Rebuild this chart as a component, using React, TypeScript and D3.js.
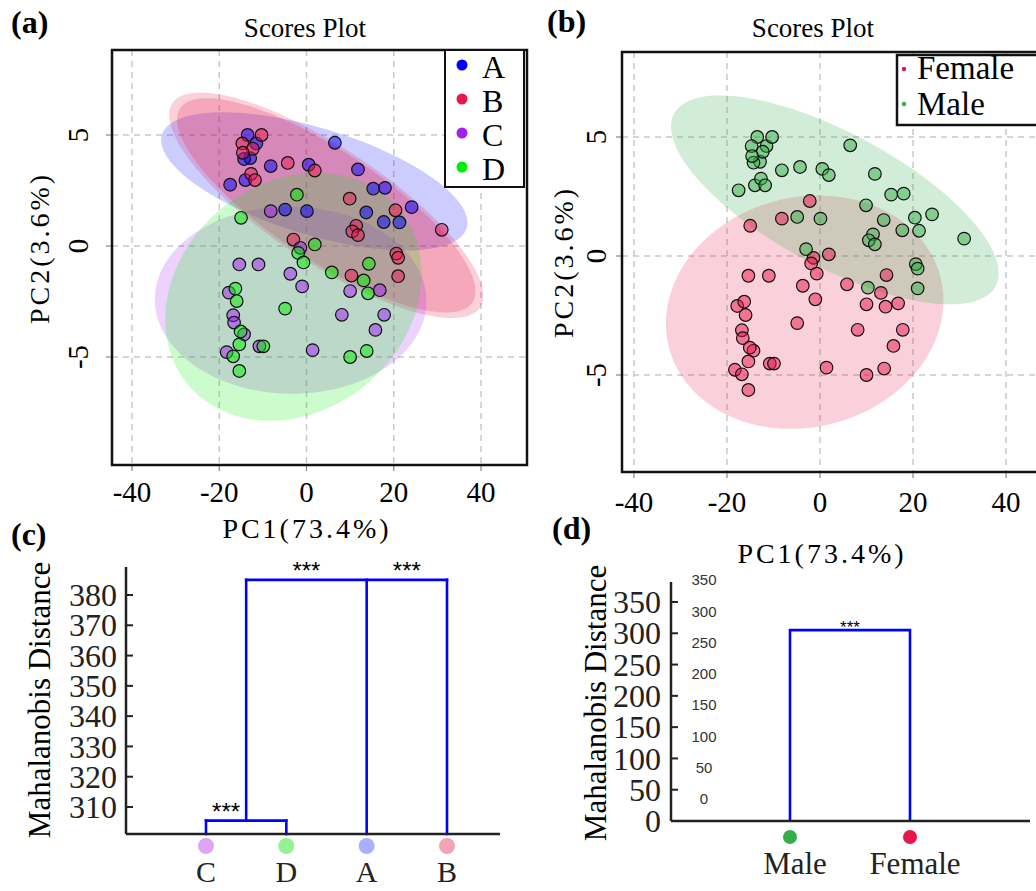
import * as d3 from "d3";

// ---- data ----
const groups = ["A", "B", "C", "D"];
const groupColors = ["#0000FF", "#E8174B", "#A020F0", "#00EE00"];
const groupSex = ["Male", "Male", "Female", "Female"];
const sexes = ["Female", "Male"];
const sexColors = ["#E8174B", "#33AE48"];

// PCA scores per group (PC1, PC2)
const pc1_A = [-13.5, -11.5, -12.9, -14.3, 6.5, -8.2, 0.5, -14.0, -17.5, 11.8, 15.3, 18.0, -4.9, 0.1, 13.7, 24.1, 17.7, 21.3];
const pc2_A = [5.0, 4.62, 3.96, 3.92, 4.65, 3.6, 3.66, 2.97, 2.76, 3.45, 2.58, 2.62, 1.64, 1.57, 1.51, 1.75, 1.08, 1.06];
const pc1_B = [-10.3, -14.7, -12.3, -14.6, -4.3, 1.9, -12.7, -11.8, 9.9, 20.4, 11.4, 10.5, 11.8, 31.0, -3.0, 20.6, 21.0, 10.3, 21.0];
const pc2_B = [5.0, 4.62, 4.38, 4.2, 3.74, 3.4, 3.25, 2.97, 2.13, 1.61, 0.91, 0.66, 0.49, 0.73, 0.29, -0.34, -0.53, -1.33, -1.36];
const pc1_C = [-8.2, -1.4, -15.4, -11.0, -3.7, -1.0, -17.8, 10.0, 16.8, -16.8, -16.6, 8.1, 17.8, -14.3, 15.8, -10.8, -18.3, 1.4];
const pc2_C = [1.57, -0.08, -0.83, -0.83, -1.25, -1.82, -2.1, -2.03, -1.99, -3.12, -3.45, -3.1, -3.1, -3.98, -3.78, -4.52, -4.78, -4.69];
const pc1_D = [-2.2, -15.0, 1.9, -1.9, -0.7, 5.8, 14.3, 13.1, -16.3, 14.1, -16.0, -4.9, -15.1, -15.4, -9.9, -16.8, 13.8, 10.0, -15.4];
const pc2_D = [2.31, 1.27, 0.07, -0.31, -0.74, -1.19, -0.8, -1.55, -1.92, -2.13, -2.48, -2.82, -3.85, -4.43, -4.52, -4.97, -4.73, -5.0, -5.63];

const pcTicksX = [-40, -20, 0, 20, 40];
const pcTicksY = [-5, 0, 5];

// dendrogram (c): leaves and merges (Mahalanobis distance)
const leavesC = ["C", "D", "A", "B"];
const leafColorsC = ["#DDA6F2", "#94F294", "#AAB0FF", "#F2A3B4"];
const mergesC = [
  { id: "CD", members: ["C", "D"], height: 305.5 },
  { id: "CDAB", members: ["CD", "A", "B"], height: 385 },
];
const sigPairsC = [["C", "CD"], ["CD", "A"], ["A", "B"]];
const ticksC = [310, 320, 330, 340, 350, 360, 370, 380];

// dendrogram (d)
const leavesD = ["Male", "Female"];
const leafColorsD = ["#33AE48", "#E8174B"];
const mergeD = { members: ["Male", "Female"], height: 305 };
const ticksD = [0, 50, 100, 150, 200, 250, 300, 350];

const serif = "'Liberation Serif', 'Times New Roman', serif";
const sans = "'Liberation Sans', Arial, sans-serif";
const K95 = Math.sqrt(5.991);

const pcX = [pc1_A, pc1_B, pc1_C, pc1_D];
const pcY = [pc2_A, pc2_B, pc2_C, pc2_D];
const samples = groups.flatMap((g, gi) =>
  pcX[gi].map((x, i) => ({ x, y: pcY[gi][i], group: g, sex: groupSex[gi] }))
);

// confidence ellipse of a point cloud, in data units, mapped through scales
function ellipsePath(xs: number[], ys: number[], k: number, sx: any, sy: any) {
  const n = xs.length;
  const mx = d3.mean(xs)!;
  const my = d3.mean(ys)!;
  let sxx = 0, syy = 0, sxy = 0;
  for (let i = 0; i < n; i++) {
    sxx += (xs[i] - mx) ** 2;
    syy += (ys[i] - my) ** 2;
    sxy += (xs[i] - mx) * (ys[i] - my);
  }
  sxx /= n - 1; syy /= n - 1; sxy /= n - 1;
  const a = Math.sqrt(sxx);
  const b = sxy / a;
  const c = Math.sqrt(Math.max(syy - b * b, 0));
  const pts: [number, number][] = d3.range(0, 120).map((i) => {
    const t = (i / 120) * 2 * Math.PI;
    const ex = mx + k * a * Math.cos(t);
    const ey = my + k * (b * Math.cos(t) + c * Math.sin(t));
    return [sx(ex), sy(ey)];
  });
  return d3.line().curve(d3.curveLinearClosed)(pts) || "";
}

function ScorePanel({ x, y, frame, legend, byGroup }: any) {
  const grid = "#c9c9c9";
  return (
    <g>
      <rect x={frame.l} y={frame.t} width={frame.r - frame.l} height={frame.b - frame.t} fill="white" />
      {pcTicksX.map((t) => (
        <line key={"gx" + t} x1={x(t)} x2={x(t)} y1={frame.t} y2={frame.b} stroke={grid} strokeWidth={1.5} strokeDasharray="6,5" />
      ))}
      {pcTicksY.map((t) => (
        <line key={"gy" + t} x1={frame.l} x2={frame.r} y1={y(t)} y2={y(t)} stroke={grid} strokeWidth={1.5} strokeDasharray="6,5" />
      ))}
      {byGroup
        ? groups.map((g, gi) => (
            <g key={g}>
              <path d={ellipsePath(pcX[gi], pcY[gi], K95, x, y)} fill={groupColors[gi]} fillOpacity={0.2} />
              {g === "B" && (
                <path d={ellipsePath(pcX[gi], pcY[gi], K95 * 0.95, x, y)} fill={groupColors[gi]} fillOpacity={0.22} />
              )}
            </g>
          ))
        : sexes.map((s, si) => {
            const pts = samples.filter((d) => d.sex === s);
            return (
              <path key={s} d={ellipsePath(pts.map((d) => d.x), pts.map((d) => d.y), K95, x, y)}
                fill={sexColors[si]} fillOpacity={s === "Male" ? 0.22 : 0.2} />
            );
          })}
      {(byGroup ? samples : [...samples].sort((p, q) => (p.sex < q.sex ? -1 : 1))).map((d, i) => (
        <circle key={i} cx={x(d.x)} cy={y(d.y)} r={6.3}
          fill={byGroup ? groupColors[groups.indexOf(d.group)] : sexColors[sexes.indexOf(d.sex)]}
          fillOpacity={0.5} stroke="#111" strokeWidth={1.2} />
      ))}
      {/* ticks */}
      {pcTicksX.map((t) => (
        <line key={"tx" + t} x1={x(t)} x2={x(t)} y1={frame.b} y2={frame.b + 6} stroke="#888" strokeWidth={1.2} />
      ))}
      {pcTicksY.map((t) => (
        <line key={"ty" + t} x1={frame.l - 6} x2={frame.l} y1={y(t)} y2={y(t)} stroke="#888" strokeWidth={1.2} />
      ))}
      <rect x={frame.l} y={frame.t} width={frame.r - frame.l} height={frame.b - frame.t} fill="none" stroke="#111" strokeWidth={2.5} />
      {pcTicksX.map((t) => (
        <text key={"lx" + t} x={x(t)} y={frame.xLab} textAnchor="middle" fontFamily={serif} fontSize={29}>{t}</text>
      ))}
      {pcTicksY.map((t) => (
        <text key={"ly" + t} transform={`translate(${frame.yLab},${y(t)}) rotate(-90)`} textAnchor="middle" fontFamily={serif} fontSize={29}>{t}</text>
      ))}
      {legend}
    </g>
  );
}

export default function App() {
  // panel (a)
  const xA = d3.scaleLinear().domain([-40, 40]).range([132, 481]);
  const yA = d3.scaleLinear().domain([-5, 5]).range([357, 135]);
  // panel (b)
  const xB = d3.scaleLinear().domain([-40, 40]).range([634, 1006]);
  const yB = d3.scaleLinear().domain([-5, 5]).range([375, 137]);
  // panel (c)
  const xC = d3.scalePoint().domain(leavesC).range([206, 447]);
  const yC = d3.scaleLinear().domain([310, 380]).range([807, 595]);
  const baseC = 834;
  // panel (d)
  const xD = d3.scalePoint().domain(leavesD).range([790, 910]);
  const yD = d3.scaleLinear().domain([0, 350]).range([821, 602]);

  // dendrogram geometry for (c)
  const posC: Record<string, { x: number; y: number }> = {};
  leavesC.forEach((l) => (posC[l] = { x: xC(l)!, y: baseC }));
  const linksC: JSX.Element[] = [];
  mergesC.forEach((m) => {
    const hy = yC(m.height);
    const xs = m.members.map((id) => posC[id].x);
    m.members.forEach((id) => {
      linksC.push(<line key={m.id + id} x1={posC[id].x} x2={posC[id].x} y1={posC[id].y} y2={hy} />);
    });
    linksC.push(<line key={m.id + "h"} x1={d3.min(xs)} x2={d3.max(xs)} y1={hy} y2={hy} />);
    posC[m.id] = { x: d3.mean(xs)!, y: hy };
  });
  // height of the merge that joins a pair
  const heightOf = (p: string, q: string) => {
    const m = mergesC.find((mm) => mm.members.includes(q) && mm.members.includes(p)) ||
      mergesC.find((mm) => mm.id === q && mm.members.includes(p));
    return m ? m.height : 0;
  };

  const legendA = (
    <g>
      <rect x={445} y={50} width={79} height={137} fill="white" stroke="#111" strokeWidth={2} />
      {groups.map((g, i) => (
        <g key={g}>
          <circle cx={462} cy={65 + i * 34} r={5.5} fill={groupColors[i]} />
          <text x={482} y={78 + i * 34} fontFamily={serif} fontSize={32}>{g}</text>
        </g>
      ))}
    </g>
  );
  const legendB = (
    <g>
      <rect x={897} y={55} width={150} height={70} fill="white" stroke="#111" strokeWidth={2.5} />
      {sexes.map((s, i) => (
        <g key={s}>
          <circle cx={904} cy={69 + i * 35} r={2.2} fill={sexColors[i]} />
          <text x={917} y={79 + i * 36} fontFamily={serif} fontSize={33}>{s}</text>
        </g>
      ))}
    </g>
  );

  return (
    <svg width={1036} height={891} style={{ position: "absolute", left: 0, top: 0, background: "white" }}>
      <rect width={1036} height={891} fill="white" />

      {/* (a) */}
      <text x={11} y={33} fontFamily={serif} fontSize={32} fontWeight="bold">(a)</text>
      <text x={305} y={37} textAnchor="middle" fontFamily={serif} fontSize={27}>Scores Plot</text>
      <ScorePanel x={xA} y={yA} byGroup frame={{ l: 112, r: 527, t: 50, b: 465, xLab: 502, yLab: 88 }} legend={legendA} />
      <text x={307} y={538} textAnchor="middle" fontFamily={serif} fontSize={28} letterSpacing={3}>PC1(73.4%)</text>
      <text transform="translate(49,248) rotate(-90)" textAnchor="middle" fontFamily={serif} fontSize={28} letterSpacing={3}>PC2(3.6%)</text>

      {/* (b) */}
      <text x={547} y={32} fontFamily={serif} fontSize={32} fontWeight="bold">(b)</text>
      <text x={813} y={37} textAnchor="middle" fontFamily={serif} fontSize={27}>Scores Plot</text>
      <ScorePanel x={xB} y={yB} byGroup={false} frame={{ l: 622, r: 1044, t: 52, b: 472, xLab: 512, yLab: 606 }} legend={legendB} />
      <text x={822} y={563} textAnchor="middle" fontFamily={serif} fontSize={28} letterSpacing={3}>PC1(73.4%)</text>
      <text transform="translate(573,262) rotate(-90)" textAnchor="middle" fontFamily={serif} fontSize={28} letterSpacing={3}>PC2(3.6%)</text>

      {/* (c) */}
      <text x={11} y={545} fontFamily={serif} fontSize={32} fontWeight="bold">(c)</text>
      <text transform="translate(50,700) rotate(-90)" textAnchor="middle" fontFamily={serif} fontSize={31}>Mahalanobis Distance</text>
      {ticksC.map((t) => (
        <g key={t}>
          <line x1={126} x2={133} y1={yC(t)} y2={yC(t)} stroke="#222" strokeWidth={2} />
          <text x={117} y={yC(t)} dy="0.35em" textAnchor="end" fontFamily={serif} fontSize={32} fill="#222">{t}</text>
        </g>
      ))}
      <g stroke="#0000FF" strokeWidth={2.6} strokeLinecap="square">{linksC}</g>
      <line x1={126} x2={126} y1={567} y2={baseC} stroke="#222" strokeWidth={2.5} />
      <line x1={126} x2={500} y1={baseC} y2={baseC} stroke="#222" strokeWidth={2.5} />
      {sigPairsC.map(([p, q], i) => (
        <text key={i} x={(posC[p].x + posC[q].x) / 2} y={yC(heightOf(p, q)) - 1} textAnchor="middle"
          fontFamily={sans} fontSize={24}>***</text>
      ))}
      {leavesC.map((l, i) => (
        <g key={l}>
          <circle cx={xC(l)} cy={846} r={8} fill={leafColorsC[i]} />
          <text x={xC(l)} y={882} textAnchor="middle" fontFamily={serif} fontSize={30} fill="#222">{l}</text>
        </g>
      ))}

      {/* (d) */}
      <text x={552} y={539} fontFamily={serif} fontSize={32} fontWeight="bold">(d)</text>
      <text transform="translate(606,703) rotate(-90)" textAnchor="middle" fontFamily={serif} fontSize={31}>Mahalanobis Distance</text>
      {ticksD.map((t) => (
        <g key={t}>
          <line x1={671} x2={678} y1={yD(t)} y2={yD(t)} stroke="#222" strokeWidth={2} />
          <text x={661} y={yD(t)} dy="0.35em" textAnchor="end" fontFamily={serif} fontSize={32} fill="#222">{t}</text>
          <text x={704} y={yD(t) - 22} dy="0.35em" textAnchor="middle" fontFamily={sans} fontSize={15} fill="#333">{t}</text>
        </g>
      ))}
      <g stroke="#0000FF" strokeWidth={2.6} fill="none">
        <path d={`M${xD(mergeD.members[0])},${yD(0)}V${yD(mergeD.height)}H${xD(mergeD.members[1])}V${yD(0)}`} />
      </g>
      <line x1={671} x2={671} y1={582} y2={821} stroke="#222" strokeWidth={2.5} />
      <line x1={671} x2={1030} y1={821} y2={821} stroke="#222" strokeWidth={2.5} />
      <text x={(xD("Male")! + xD("Female")!) / 2} y={yD(mergeD.height) + 3} textAnchor="middle" fontFamily={sans} fontSize={17}>***</text>
      {leavesD.map((l, i) => (
        <g key={l}>
          <circle cx={xD(l)} cy={837} r={7} fill={leafColorsD[i]} />
          <text x={xD(l)! + 5} y={874} textAnchor="middle" fontFamily={serif} fontSize={31} fill="#222">{l}</text>
        </g>
      ))}
    </svg>
  );
}
